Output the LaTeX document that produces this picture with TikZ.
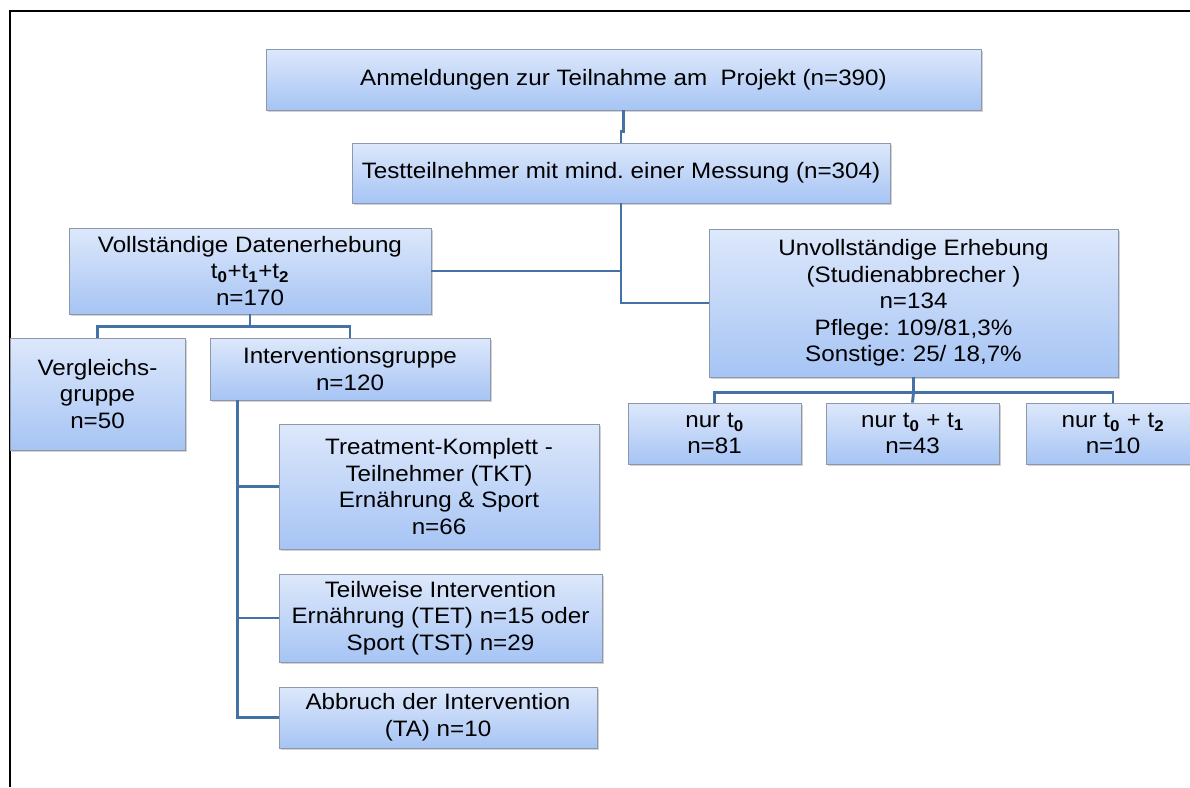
\documentclass[tikz,border=0pt]{standalone}
\usepackage{fontspec}
\setmainfont{Liberation Sans}[FakeStretch=1.085]
\usepackage{tikz}
\usetikzlibrary{
    positioning,
    shadows,
    calc
}
\definecolor{boxtop}{HTML}{DDE8FB}
\definecolor{boxbottom}{HTML}{A6C4F4}
\definecolor{boxborder}{HTML}{8D99AB}
\definecolor{linkblue}{HTML}{4471A6}
\tikzset{
    % Connector:
    line/.style = {
        line width = 2.9pt,
        draw = linkblue
    },
    % Shaded group box:
    group node/.style = {
        rectangle,
        draw = boxborder,
        line width = 0.8pt,
        top color = boxtop,
        bottom color = boxbottom,
        drop shadow = {opacity=0.35, shadow xshift=1.5pt, shadow yshift=-2pt},
        align = center,
        inner sep = 2pt,
        font = \fontsize{22.3}{26.6}\selectfont
    },
    % Box size in pixels:
    box size/.style 2 args = {
        minimum width = #1pt,
        minimum height = #2pt
    }
}
\newcommand{\tsub}[1]{t\textsubscript{\textbf{#1}}}
\frenchspacing

\begin{document}
\begin{tikzpicture}[x=1pt, y=-1pt]
    \clip (0, 0) rectangle (1190, 787);
    \fill [white] (0, 0) rectangle (1190, 787);
    % Frame edges:
    \draw [line width=2pt] (9.6, 787) -- (9.6, 11) -- (1190, 11);

    \node [group node, box size={715}{61}] (anm) at (623.5, 79.5)
        {Anmeldungen zur Teilnahme am~ Projekt (n=390)};
    \node [group node, box size={538}{60}] (test) at (621, 173)
        {Testteilnehmer mit mind. einer Messung (n=304)};
    \node [group node, box size={362}{86}] (voll) at (250, 271)
        {Vollständige Datenerhebung\\\tsub{0}+\tsub{1}+\tsub{2}\\n=170};
    \node [group node, box size={409}{148}] (unvoll) at (913.5, 303)
        {Unvollständige Erhebung\\(Studienabbrecher )\\n=134\\Pflege: 109/81,3\%\\Sonstige: 25/ 18,7\%};
    \node [group node, box size={175}{112}] (vergl) at (97.5, 394)
        {Vergleichs-\\gruppe\\n=50};
    \node [group node, box size={280}{62}] (interv) at (350, 369)
        {Interventionsgruppe\\n=120};
    \node [group node, box size={320}{125}] (tkt) at (439, 486.5)
        {Treatment-Komplett -\\Teilnehmer (TKT)\\Ernährung \& Sport\\n=66};
    \node [group node, box size={323}{88}] (teilw) at (440.5, 618)
        {Teilweise Intervention\\Ernährung (TET) n=15 oder\\Sport (TST) n=29};
    \node [group node, box size={318}{61}] (abbr) at (438, 717.5)
        {Abbruch der Intervention\\(TA) n=10};
    \node [group node, box size={173}{61}] (nur0) at (714.5, 433.5)
        {nur \tsub{0}\\n=81};
    \node [group node, box size={173}{61}] (nur01) at (912.5, 433.5)
        {nur \tsub{0} + \tsub{1}\\n=43};
    \node [group node, box size={174}{61}] (nur02) at (1113, 433.5)
        {nur \tsub{0} + \tsub{2}\\n=10};

    % Connectors:
    \draw [line] (anm.south) -- ++(0, 21) -| (test.north);
    \draw [line] (test.south) |- (unvoll.west);
    \draw [line] (voll.east) -- (voll.east -| test.south);
    \draw [line] (voll.south) -- ++(0, 12) coordinate (vsplit);
    \draw [line] (vergl.north) |- (vsplit) -| (interv.north);
    \coordinate (ivline) at ($(interv.south west) + (28, 0)$);
    \draw [line] (ivline) |- (abbr.west);
    \draw [line] (ivline |- tkt.west) -- (tkt.west);
    \draw [line] (ivline |- teilw.west) -- (teilw.west);
    \draw [line] (unvoll.south) -- ++(0, 15) coordinate (usplit);
    \draw [line] (nur0.north) |- (usplit) -| (nur02.north);
    \draw [line] (usplit) -- (nur01.north);
\end{tikzpicture}
\end{document}
